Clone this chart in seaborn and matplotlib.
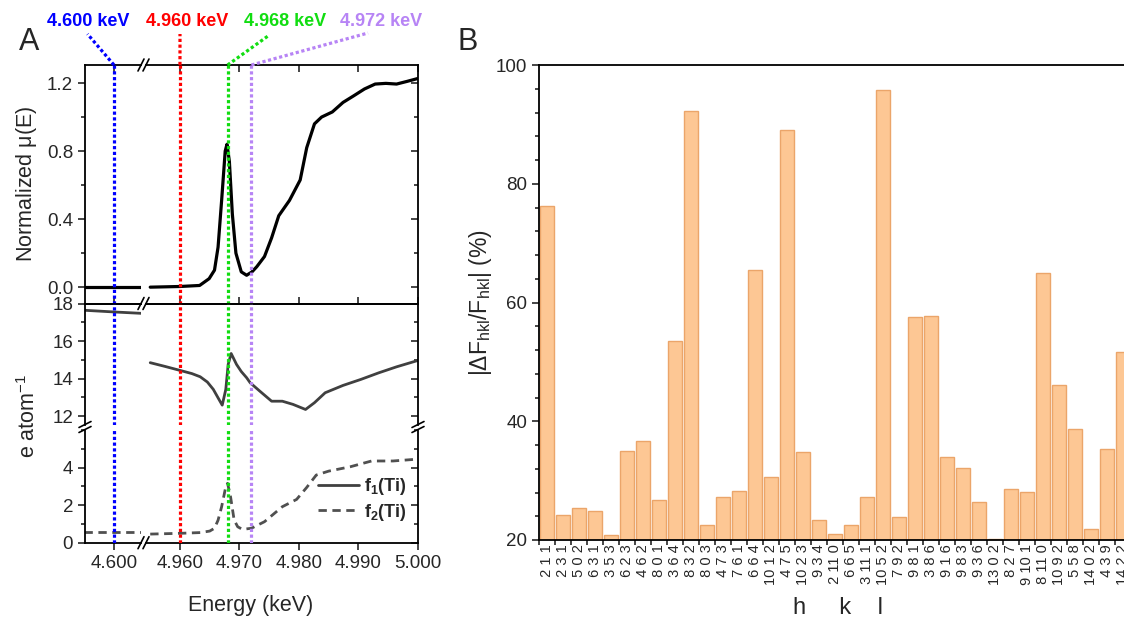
import matplotlib
matplotlib.use("Agg")
import matplotlib.pyplot as plt
import seaborn as sns
from matplotlib.ticker import MultipleLocator, FixedLocator, NullLocator, FormatStrFormatter

# ---- panel A : Ti K-edge XANES and anomalous scattering factors ----
# left piece of the broken energy axis (around 4.600 keV)
e_left = [4.595, 4.600, 4.605]
mu_left = [0.0, 0.0, 0.0]
f1_left = [17.64, 17.55, 17.47]
f2_left = [0.55, 0.55, 0.55]

# right piece (4.955 - 5.000 keV)
mu_energy = [4.955, 4.960, 4.9633, 4.9649, 4.9658, 4.9664, 4.9670, 4.9676, 4.9679,
             4.9683, 4.9688, 4.9694, 4.9703, 4.9712, 4.9721, 4.9729, 4.9742, 4.9754,
             4.9766, 4.9784, 4.9802, 4.9813, 4.9826, 4.9838, 4.9856, 4.9874, 4.9892,
             4.9910, 4.9928, 4.9946, 4.9964, 4.9982, 5.000]
mu_norm = [0.0, 0.004, 0.01, 0.05, 0.10, 0.235, 0.51, 0.80, 0.84,
           0.74, 0.43, 0.20, 0.09, 0.07, 0.09, 0.12, 0.18, 0.29,
           0.42, 0.51, 0.63, 0.82, 0.96, 1.00, 1.03, 1.086, 1.125,
           1.165, 1.194, 1.198, 1.194, 1.21, 1.227]

f1_energy = [4.955, 4.9575, 4.960, 4.962, 4.9634, 4.9646, 4.9656, 4.9664, 4.9671,
             4.9677, 4.9681, 4.9686, 4.9695, 4.9703, 4.9712, 4.9718, 4.9734, 4.9754,
             4.9772, 4.9790, 4.9811, 4.9826, 4.9844, 4.9874, 4.9904, 4.9934, 4.9964,
             5.000]
f1_ti = [14.85, 14.65, 14.44, 14.27, 14.10, 13.82, 13.43, 12.98, 12.59,
         13.43, 14.76, 15.34, 14.76, 14.38, 14.05, 13.78, 13.34, 12.80,
         12.80, 12.63, 12.36, 12.72, 13.25, 13.64, 13.96, 14.31, 14.63,
         14.97]

f2_energy = [4.955, 4.960, 4.9634, 4.9650, 4.9658, 4.9664, 4.9670, 4.9677, 4.9680,
             4.9685, 4.9691, 4.9697, 4.9705, 4.9720, 4.9742, 4.9772, 4.9796, 4.9813,
             4.9829, 4.9850, 4.9886, 4.9922, 4.9958, 5.000]
f2_ti = [0.46, 0.50, 0.54, 0.62, 0.77, 1.20, 1.92, 2.99, 3.17,
         2.45, 1.21, 0.85, 0.71, 0.77, 1.12, 1.92, 2.31, 2.95,
         3.61, 3.82, 4.05, 4.36, 4.36, 4.46]

marker_energy = [4.600, 4.960, 4.968, 4.972]
marker_text = ["4.600 keV", "4.960 keV", "4.968 keV", "4.972 keV"]
marker_color = ["#0000FF", "#FF0000", "#11DD11", "#B784F5"]

# ---- panel B : relative change of structure factors ----
hkl_labels = ["2 1 1", "2 3 1", "5 0 2", "6 3 1", "3 5 3", "6 2 3", "4 6 2", "8 0 1",
              "3 6 4", "8 3 2", "8 0 3", "4 7 3", "7 6 1", "6 6 4", "10 1 2", "4 7 5",
              "10 2 3", "9 3 4", "2 11 0", "6 6 5", "3 11 1", "10 5 2", "7 9 2", "9 8 1",
              "3 8 6", "9 1 6", "9 8 3", "9 3 6", "13 0 2", "8 2 7", "9 10 1", "8 11 0",
              "10 9 2", "5 5 8", "14 0 2", "4 3 9", "14 2 2"]
delta_f = [76.3, 24.2, 25.4, 24.9, 20.8, 35.0, 36.6, 26.8, 53.6, 92.2, 22.5, 27.3,
           28.3, 65.5, 30.6, 89.0, 34.8, 23.3, 21.0, 22.5, 27.2, 95.8, 23.9, 57.5,
           57.8, 33.9, 32.2, 26.4, 20.2, 28.6, 28.1, 64.9, 46.1, 38.7, 21.9, 35.3, 51.7]

sns.set_style("ticks")
plt.rcParams['font.family'] = ['Liberation Sans', 'DejaVu Sans']
plt.rcParams['mathtext.fontset'] = 'custom'
plt.rcParams['mathtext.rm'] = 'Liberation Sans'
plt.rcParams['mathtext.it'] = 'Liberation Sans:italic'
plt.rcParams['mathtext.bf'] = 'Liberation Sans:bold'
plt.rcParams['mathtext.default'] = 'regular'
plt.rcParams['axes.linewidth'] = 1.3
plt.rcParams['axes.edgecolor'] = 'black'

W, H = 1124, 620
fig = plt.figure(figsize=(W / 100, H / 100), dpi=100)


def px_axes(x0, y0, x1, y1):
    return fig.add_axes([x0 / W, 1 - y1 / H, (x1 - x0) / W, (y1 - y0) / H])


def fig_line(xs, ys, **kw):
    style = dict(color='k', lw=1.2)
    style.update(kw)
    fig.add_artist(plt.Line2D([x / W for x in xs], [1 - y / H for y in ys], **style))


# layout of panel A (pixels)
xL0, xL1, xR0, xR1 = 85, 141, 146, 418
y_top, y_mid, y_brk_hi, y_brk_lo, y_bot = 65, 303.5, 424.5, 429.5, 542.7

rows = {}
rows['top'] = (px_axes(xL0, y_top, xL1, y_mid), px_axes(xR0, y_top, xR1, y_mid))
rows['hi'] = (px_axes(xL0, y_mid, xL1, y_brk_hi), px_axes(xR0, y_mid, xR1, y_brk_hi))
rows['lo'] = (px_axes(xL0, y_brk_lo, xL1, y_bot), px_axes(xR0, y_brk_lo, xR1, y_bot))

xlim_left = (4.59513, 4.60454)
xlim_right = (4.95429, 5.000)
ylims = {'top': (-0.096, 1.306), 'hi': (11.56, 18.0), 'lo': (0.0, 6.04)}

dot = (0, (1, 0.8))
tick_fs = 13.5

# curves
sns.lineplot(x=e_left, y=mu_left, ax=rows['top'][0], color='black', lw=2.3)
sns.lineplot(x=mu_energy, y=mu_norm, ax=rows['top'][1], color='black', lw=2.3)
sns.lineplot(x=e_left, y=f1_left, ax=rows['hi'][0], color='#404040', lw=2)
sns.lineplot(x=f1_energy, y=f1_ti, ax=rows['hi'][1], color='#404040', lw=2)
sns.lineplot(x=e_left, y=f2_left, ax=rows['lo'][0], color='#505050', lw=2, ls=(0, (3, 2)))
sns.lineplot(x=f2_energy, y=f2_ti, ax=rows['lo'][1], color='#505050', lw=2, ls=(0, (3, 2)))

for name, (axl, axr) in rows.items():
    axl.set_xlim(*xlim_left)
    axr.set_xlim(*xlim_right)
    for ax in (axl, axr):
        ax.set_ylim(*ylims[name])
        ax.set_xlabel('')
        ax.set_ylabel('')
        ax.set_facecolor('none')
        for e, c in zip(marker_energy, marker_color):
            if ax.get_xlim()[0] < e < ax.get_xlim()[1]:
                ax.axvline(e, color=c, ls=dot, lw=2.3, zorder=3)
    axl.spines['right'].set_visible(False)
    axr.spines['left'].set_visible(False)
    axl.xaxis.set_major_locator(FixedLocator([4.600]))
    axr.xaxis.set_major_locator(FixedLocator([4.960, 4.970, 4.980, 4.990, 5.000]))
    for ax in (axl, axr):
        ax.xaxis.set_major_formatter(FormatStrFormatter('%.3f'))
        ax.tick_params(axis='x', which='major', length=5, width=1.2, labelsize=tick_fs)
    # y ticks: out on the left, mirrored inward on the right
    axl.tick_params(axis='y', which='both', direction='out', left=True, right=False,
                    labelsize=tick_fs, width=1.2)
    axl.tick_params(axis='y', which='major', length=5)
    axl.tick_params(axis='y', which='minor', length=3)
    axr.tick_params(axis='y', which='both', direction='in', left=False, right=True,
                    labelleft=False, labelright=False, width=1.2)
    axr.tick_params(axis='y', which='major', length=5)
    axr.tick_params(axis='y', which='minor', length=3)

# top row
for ax in rows['top']:
    ax.tick_params(axis='x', which='major', direction='in', top=True, bottom=True,
                   labelbottom=False, labeltop=False)
rows['top'][0].yaxis.set_major_locator(MultipleLocator(0.4))
rows['top'][0].yaxis.set_minor_locator(MultipleLocator(0.2))
rows['top'][0].yaxis.set_major_formatter(FormatStrFormatter('%.1f'))
rows['top'][1].yaxis.set_major_locator(MultipleLocator(0.4))
rows['top'][1].yaxis.set_minor_locator(MultipleLocator(0.2))

# upper part of the broken f axis
for ax in rows['hi']:
    ax.spines['bottom'].set_visible(False)
    ax.tick_params(axis='x', which='both', bottom=False, top=False, labelbottom=False)
    ax.yaxis.set_major_locator(FixedLocator([12, 14, 16, 18]))
    ax.yaxis.set_minor_locator(MultipleLocator(1))

# lower part of the broken f axis
for ax in rows['lo']:
    ax.spines['top'].set_visible(False)
    ax.tick_params(axis='x', which='major', direction='out', bottom=True, top=False,
                   labelbottom=True)
    ax.yaxis.set_major_locator(FixedLocator([0, 2, 4]))
    ax.yaxis.set_minor_locator(MultipleLocator(1))
    ax.xaxis.set_minor_locator(NullLocator())

# legend
f1_handle = plt.Line2D([], [], color='#404040', lw=2)
f2_handle = plt.Line2D([], [], color='#505050', lw=2, ls=(0, (3, 2)))
rows['lo'][1].legend([f1_handle, f2_handle],
                     [r'$\mathbf{f_1(Ti)}$', r'$\mathbf{f_2(Ti)}$'],
                     loc='lower right', bbox_to_anchor=(1.0, 0.08), frameon=False,
                     fontsize=13, handlelength=2.3, labelspacing=0.25, handletextpad=0.3,
                     borderaxespad=0.2)

# axis break marks
for xb in (xL1, xR0):
    for yb in (y_top, y_mid, y_bot):
        fig_line([xb - 3, xb + 3], [yb + 6, yb - 6])
for xb in (xL0, xR1):
    for yb in (y_brk_hi, y_brk_lo):
        fig_line([xb - 6, xb + 6], [yb + 3, yb - 3])

# energy labels with dotted leaders from the top of each marker line
label_centre = [(88, 21), (187, 21), (285, 21), (381, 21)]
leader_end = [(87.5, 34), (180, 34), (268, 36), (368, 33)]
for e, txt, c, (cx, cy), (lx, ly) in zip(marker_energy, marker_text, marker_color,
                                         label_centre, leader_end):
    ax = rows['top'][0] if e < 4.8 else rows['top'][1]
    sx, sy = ax.transData.transform((e, ylims['top'][1]))
    fig_line([sx, lx], [H - sy, ly], color=c, lw=2.3, ls=dot)
    fig.text(cx / W, 1 - cy / H, txt, ha='center', va='center', color=c,
             fontsize=13, fontweight='bold')

fig.text(27 / W, 1 - 184 / H, r'Normalized $\mu$(E)', rotation=90, ha='center', va='center', fontsize=15.5)
fig.text(29 / W, 1 - 416 / H, r'e atom$^{-1}$', rotation=90, ha='center', va='center', fontsize=15.5)
fig.text(251 / W, 1 - 605 / H, 'Energy (keV)', ha='center', va='center', fontsize=15.5)
fig.text(29 / W, 1 - 42 / H, 'A', ha='center', va='center', fontsize=22)
fig.text(468 / W, 1 - 42 / H, 'B', ha='center', va='center', fontsize=22)

# ---- panel B ----
axB = px_axes(539, 65, 1131, 540)
sns.barplot(x=hkl_labels, y=delta_f, ax=axB, color='#FDC794', edgecolor='#EBA56A',
            linewidth=1.0, width=0.92, saturation=1, errorbar=None)
axB.set_xlim(-0.5, len(hkl_labels) - 0.5)
axB.set_ylim(20, 100)
axB.yaxis.set_major_locator(MultipleLocator(20))
axB.yaxis.set_minor_locator(MultipleLocator(4))
axB.tick_params(axis='y', which='both', direction='out', labelsize=tick_fs, width=1.2)
axB.tick_params(axis='y', which='major', length=5)
axB.tick_params(axis='y', which='minor', length=3)
axB.spines['right'].set_visible(False)
padded = [('\u2007' + s) if len(s.split()[0]) == 1 else s for s in hkl_labels]
axB.set_xticks(range(len(hkl_labels)))
axB.set_xticklabels(padded, rotation=90, fontsize=10.5, va='top', ha='center')
axB.xaxis.set_minor_locator(FixedLocator([i - 0.5 for i in range(len(hkl_labels) + 1)]))
axB.tick_params(axis='x', which='major', length=0, pad=3)
axB.tick_params(axis='x', which='minor', length=3.5, width=1.2, direction='out')
axB.set_ylabel(r'|$\Delta$F$_{hkl}$/F$_{hkl}$| (%)', fontsize=16.5, labelpad=1)
axB.set_xlabel('h     k    l', fontsize=17)
axB.xaxis.set_label_coords(0.505, -0.12)

fig.savefig('out.png', dpi=100)
